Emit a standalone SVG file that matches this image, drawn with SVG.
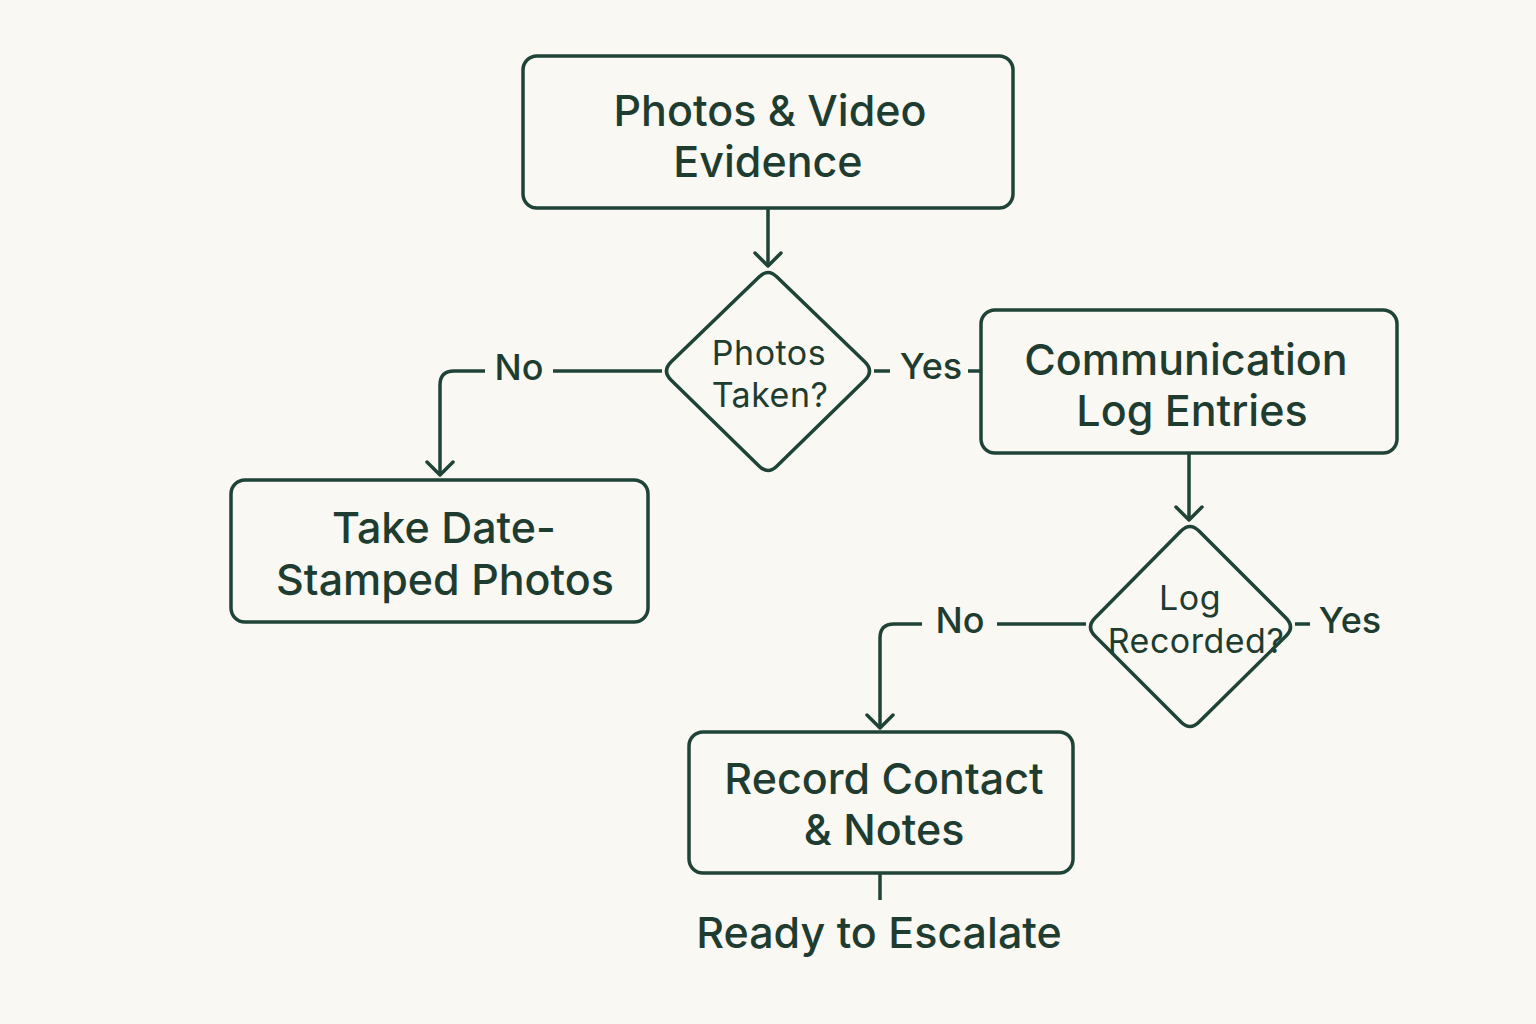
<svg xmlns="http://www.w3.org/2000/svg" width="1536" height="1024" viewBox="0 0 1536 1024">
<defs>
<marker id="arr" viewBox="0 0 30 30" refX="17" refY="15" markerWidth="30" markerHeight="30" markerUnits="userSpaceOnUse" orient="auto">
<path d="M4 2 L17 15 L4 28" fill="none" stroke="#1f4437" stroke-width="3.5" stroke-linecap="round" stroke-linejoin="round"/>
</marker>
<style>
.box{fill:none;stroke:#1f4437;stroke-width:3.5}
.ln{fill:none;stroke:#1f4437;stroke-width:3.5}
.t{font-family:Inter,"Noto Sans",sans-serif;fill:#1e3d30;text-anchor:middle;font-weight:500}
.big{font-size:43px}
.sm{font-size:34px;font-weight:400;letter-spacing:0.5px}
.lbl{font-size:36px}
</style>
</defs>
<rect width="1536" height="1024" fill="#faf8f3"/>
<g id="connectors">
<path class="ln" d="M768 208 V266" marker-end="url(#arr)"/>
<path class="ln" d="M662 371 H553"/>
<path class="ln" d="M485 371 H454 Q440 371 440 385 V475" marker-end="url(#arr)"/>
<path class="ln" d="M874 371 H890"/>
<path class="ln" d="M968 371 H981"/>
<path class="ln" d="M1189 453 V520" marker-end="url(#arr)"/>
<path class="ln" d="M1295 624 H1310"/>
<path class="ln" d="M1086 624 H997"/>
<path class="ln" d="M922 624 H894 Q880 624 880 638 V728" marker-end="url(#arr)"/>
<path class="ln" d="M880 873 V900"/>
<text class="t lbl" x="519" y="380">No</text>
<text class="t lbl" x="931" y="379">Yes</text>
<text class="t lbl" x="960" y="633">No</text>
<text class="t lbl" x="1350" y="633">Yes</text>
</g>
<g id="n1">
<rect class="box" x="523" y="56" width="490" height="152" rx="14"/>
<text class="t big" x="770" y="126">Photos &amp; Video</text>
<text class="t big" x="768" y="177">Evidence</text>
</g>
<g id="d1">
<path class="box" d="M759 277 Q768 268 777 277 L865 362 Q874 371 865 380 L777 466 Q768 475 759 466 L671 380 Q662 371 671 362 Z"/>
<text class="t sm" x="769" y="365">Photos</text>
<text class="t sm" x="770" y="407">Taken?</text>
</g>
<g id="n2">
<rect class="box" x="231" y="480" width="417" height="142" rx="14"/>
<text class="t big" x="444" y="543">Take Date-</text>
<text class="t big" x="445" y="595">Stamped Photos</text>
</g>
<g id="n3">
<rect class="box" x="981" y="310" width="416" height="143" rx="14"/>
<text class="t big" x="1186" y="375">Communication</text>
<text class="t big" x="1192" y="426">Log Entries</text>
</g>
<g id="d2">
<path class="box" d="M1181 531 Q1190 522 1199 531 L1286 618 Q1295 627 1286 636 L1199 722 Q1190 731 1181 722 L1095 636 Q1086 627 1095 618 Z"/>
<text class="t sm" x="1190" y="610">Log</text>
<text class="t sm" x="1196" y="653">Recorded?</text>
</g>
<g id="n4">
<rect class="box" x="689" y="732" width="384" height="141" rx="14"/>
<text class="t big" x="884" y="794">Record Contact</text>
<text class="t big" x="884" y="845">&amp; Notes</text>
</g>
<g id="end">
<text class="t big" x="879" y="948">Ready to Escalate</text>
</g>
</svg>
